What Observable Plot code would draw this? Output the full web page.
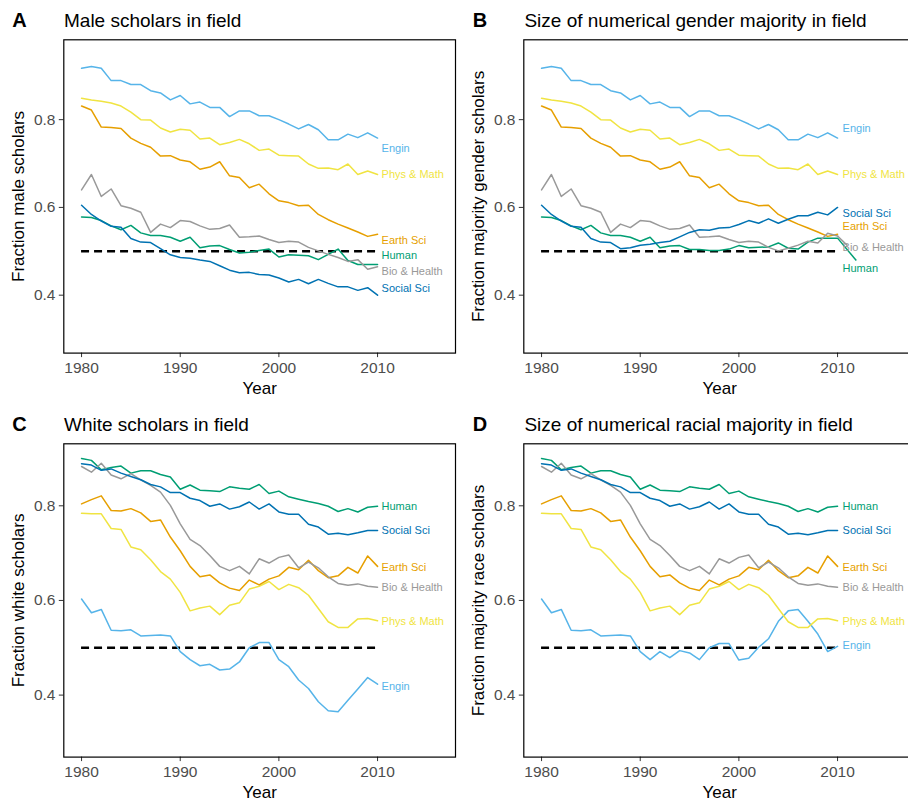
<!DOCTYPE html>
<html>
<head>
<meta charset="utf-8">
<script src="https://cdn.jsdelivr.net/npm/d3@7"></script>
<script src="https://cdn.jsdelivr.net/npm/@observablehq/plot@0.6"></script>
<style>
html,body{margin:0;padding:0;background:#fff;width:908px;height:801px;overflow:hidden;}
body{position:relative;font-family:"Liberation Sans",Arial,Helvetica,sans-serif;}
.panel{position:absolute;width:460px;height:404px;}
.letter{position:absolute;left:12.3px;top:9.8px;font-weight:bold;font-size:20px;line-height:20px;color:#000;}
.title{position:absolute;left:64px;top:10.6px;font-size:19px;line-height:19px;color:#000;white-space:nowrap;}
</style>
</head>
<body>
<script>
// ---- categories ----
const years = [1980,1981,1982,1983,1984,1985,1986,1987,1988,1989,1990,1991,1992,1993,1994,1995,
               1996,1997,1998,1999,2000,2001,2002,2003,2004,2005,2006,2007,2008,2009,2010];
const fields = ["Engin","Phys & Math","Earth Sci","Human","Bio & Health","Social Sci"];
const fieldColors = ["#56B4E9","#F0E442","#E69F00","#009E73","#999999","#0072B2"];

// ---- axis ticks / scale extents ----
const xTicks = [1980,1990,2000,2010];
const yTicks = [0.4,0.6,0.8];
const xDomain = [1978.2,2017.9];
const yDomainGender = [0.268,0.982];
const yDomainRace = [0.269,0.931];
const parityValue = 0.5;
const parityStart = 1980;
const parityEnd = 2010;
const labelYear = 2010;

// ---- A: fraction male scholars ----
const maleEngin  = [0.917,0.921,0.917,0.889,0.889,0.880,0.880,0.866,0.861,0.845,0.855,0.836,0.840,0.828,0.828,0.807,0.820,0.820,0.809,0.809,0.800,0.790,0.779,0.789,0.777,0.754,0.754,0.767,0.759,0.770,0.758];
const malePhys   = [0.849,0.845,0.842,0.838,0.831,0.817,0.800,0.799,0.781,0.772,0.778,0.776,0.756,0.758,0.743,0.748,0.755,0.745,0.730,0.733,0.719,0.718,0.717,0.699,0.689,0.690,0.686,0.699,0.675,0.683,0.675];
const maleEarth  = [0.831,0.822,0.783,0.782,0.780,0.758,0.746,0.737,0.717,0.718,0.708,0.704,0.687,0.692,0.704,0.672,0.668,0.645,0.653,0.631,0.615,0.611,0.604,0.605,0.584,0.572,0.562,0.553,0.544,0.534,0.539];
const maleHuman  = [0.578,0.577,0.570,0.558,0.549,0.559,0.542,0.536,0.536,0.532,0.523,0.532,0.508,0.512,0.513,0.504,0.496,0.498,0.502,0.505,0.487,0.492,0.491,0.490,0.481,0.493,0.505,0.479,0.470,0.470,0.470];
const maleBio    = [0.640,0.675,0.625,0.642,0.604,0.598,0.589,0.543,0.562,0.554,0.570,0.568,0.558,0.550,0.552,0.560,0.532,0.533,0.535,0.527,0.520,0.523,0.521,0.509,0.501,0.493,0.486,0.477,0.481,0.459,0.465];
const maleSocial = [0.605,0.584,0.569,0.557,0.555,0.529,0.521,0.520,0.506,0.492,0.486,0.484,0.480,0.477,0.467,0.457,0.451,0.452,0.447,0.446,0.439,0.430,0.436,0.426,0.436,0.427,0.419,0.419,0.411,0.417,0.400];

// ---- B: size of gender majority (fields that differ from A) ----
const majGenderHuman  = [0.578,0.577,0.570,0.558,0.549,0.559,0.542,0.536,0.536,0.532,0.523,0.532,0.508,0.512,0.513,0.504,0.504,0.502,0.502,0.505,0.513,0.508,0.509,0.510,0.519,0.507,0.505,0.521,0.530,0.530,0.530];
const majGenderBio    = [0.640,0.675,0.625,0.642,0.604,0.598,0.589,0.543,0.562,0.554,0.570,0.568,0.558,0.550,0.552,0.560,0.532,0.533,0.535,0.527,0.520,0.523,0.521,0.509,0.501,0.507,0.514,0.523,0.519,0.541,0.535];
const majGenderSocial = [0.605,0.584,0.569,0.557,0.555,0.529,0.521,0.520,0.506,0.508,0.514,0.516,0.520,0.523,0.533,0.543,0.549,0.548,0.553,0.554,0.561,0.570,0.564,0.574,0.564,0.573,0.581,0.581,0.589,0.583,0.600];

// ---- C: fraction white scholars ----
const whiteEngin  = [0.603,0.574,0.581,0.537,0.536,0.538,0.525,0.526,0.527,0.525,0.492,0.475,0.462,0.465,0.453,0.455,0.470,0.500,0.511,0.511,0.475,0.460,0.432,0.414,0.386,0.367,0.365,0.389,0.413,0.437,0.423];
const whitePhys   = [0.784,0.783,0.783,0.752,0.750,0.713,0.707,0.686,0.661,0.645,0.617,0.578,0.584,0.588,0.570,0.590,0.595,0.624,0.630,0.640,0.623,0.634,0.627,0.611,0.583,0.555,0.543,0.543,0.561,0.562,0.557];
const whiteEarth  = [0.804,0.813,0.821,0.790,0.789,0.794,0.785,0.767,0.770,0.734,0.705,0.672,0.650,0.654,0.637,0.626,0.621,0.643,0.633,0.645,0.652,0.670,0.665,0.685,0.663,0.648,0.652,0.670,0.658,0.694,0.672];
const whiteHuman  = [0.900,0.896,0.876,0.881,0.884,0.869,0.874,0.874,0.866,0.861,0.835,0.844,0.833,0.832,0.830,0.840,0.837,0.835,0.845,0.826,0.831,0.819,0.814,0.809,0.805,0.799,0.788,0.794,0.787,0.797,0.799];
const whiteBio    = [0.883,0.871,0.890,0.865,0.857,0.868,0.855,0.843,0.829,0.801,0.762,0.729,0.716,0.695,0.672,0.663,0.672,0.656,0.688,0.679,0.691,0.696,0.669,0.681,0.669,0.650,0.636,0.632,0.635,0.630,0.628];
const whiteSocial = [0.889,0.886,0.875,0.878,0.869,0.862,0.855,0.845,0.840,0.828,0.828,0.816,0.811,0.799,0.804,0.793,0.798,0.808,0.793,0.804,0.787,0.782,0.782,0.761,0.755,0.740,0.742,0.739,0.743,0.748,0.748];

// ---- D: size of racial majority (field that differs from C) ----
const majRaceEngin = [0.603,0.574,0.581,0.537,0.536,0.538,0.525,0.526,0.527,0.525,0.492,0.475,0.492,0.479,0.494,0.489,0.475,0.500,0.509,0.509,0.474,0.478,0.501,0.519,0.556,0.578,0.581,0.556,0.529,0.492,0.503];

// ---- label heights (fields order) ----
const labelYMale      = [0.734,0.675,0.525,0.491,0.455,0.416];
const labelYMajGender = [0.779,0.675,0.557,0.462,0.509,0.586];
const labelYWhite     = [0.419,0.555,0.670,0.799,0.628,0.748];
const labelYMajRace   = [0.504,0.555,0.670,0.799,0.628,0.748];

// ---- label leader segments in panel B ----
const leaderFields = ["Human","Bio & Health"];
const leaderX1 = [2010,2010];
const leaderY1 = [0.530,0.535];
const leaderX2 = [2011.9,2011.0];
const leaderY2 = [0.479,0.513];

const FONT = '"Liberation Sans", Arial, Helvetica, sans-serif';

const panels = [
  {letter:"A", left:0, top:0, title:"Male scholars in field", yLabel:"Fraction male scholars",
   values:[maleEngin,malePhys,maleEarth,maleHuman,maleBio,maleSocial], labelY:labelYMale, yDomain:yDomainGender, dx:4, leaders:false},
  {letter:"B", left:460.4, top:0, title:"Size of numerical gender majority in field", yLabel:"Fraction majority gender scholars",
   values:[maleEngin,malePhys,maleEarth,majGenderHuman,majGenderBio,majGenderSocial], labelY:labelYMajGender, yDomain:yDomainGender, dx:5, leaders:true},
  {letter:"C", left:0, top:404, title:"White scholars in field", yLabel:"Fraction white scholars",
   values:[whiteEngin,whitePhys,whiteEarth,whiteHuman,whiteBio,whiteSocial], labelY:labelYWhite, yDomain:yDomainRace, dx:4, leaders:false},
  {letter:"D", left:460.4, top:404, title:"Size of numerical racial majority in field", yLabel:"Fraction majority race scholars",
   values:[majRaceEngin,whitePhys,whiteEarth,whiteHuman,whiteBio,whiteSocial], labelY:labelYMajRace, yDomain:yDomainRace, dx:5, leaders:false}
];

for (const p of panels) {
  const wrap = document.createElement("div");
  wrap.className = "panel";
  wrap.style.left = p.left + "px";
  wrap.style.top = p.top + "px";
  const L = document.createElement("div"); L.className = "letter"; L.textContent = p.letter; wrap.appendChild(L);
  const T = document.createElement("div"); T.className = "title"; T.textContent = p.title; wrap.appendChild(T);

  const rows = fields.flatMap((f, k) => years.map((yr, i) => ({field: f, year: yr, value: p.values[k][i]})));
  const labels = fields.map((f, k) => ({field: f, year: labelYear, y: p.labelY[k]}));
  const leaders = p.leaders ? leaderFields.map((f, k) => ({field: f, x1: leaderX1[k], y1: leaderY1[k], x2: leaderX2[k], y2: leaderY2[k]})) : [];

  const chart = Plot.plot({
    width: 460, height: 370,
    marginTop: 9.3, marginBottom: 47.4, marginLeft: 63.3, marginRight: 5,
    x: {domain: xDomain},
    y: {domain: p.yDomain},
    color: {domain: fields, range: fieldColors},
    style: {fontFamily: FONT, background: "transparent", overflow: "visible"},
    marks: [
      Plot.axisX({ticks: xTicks, tickFormat: "d", tickSize: 4.5, tickPadding: 4.6, fontSize: 15.5,
                  stroke: "#333333", fill: "#4D4D4D", label: null}),
      Plot.axisY({ticks: yTicks, tickFormat: ".1f", tickSize: 4.5, tickPadding: 3.8, fontSize: 15.5,
                  stroke: "#333333", fill: "#4D4D4D", label: null}),
      Plot.ruleY([parityValue], {x1: parityStart, x2: parityEnd, stroke: "black", strokeWidth: 2.5, strokeDasharray: "8,5"}),
      Plot.line(rows, {x: "year", y: "value", z: "field", stroke: "field", strokeWidth: 1.5}),
      Plot.link(leaders, {x1: "x1", y1: "y1", x2: "x2", y2: "y2", stroke: "field", strokeWidth: 1.5}),
      Plot.text(labels, {x: "year", y: "y", text: "field", fill: "field", textAnchor: "start", dx: p.dx, fontSize: 11}),
      Plot.frame({stroke: "black", strokeWidth: 1.2}),
      Plot.text([p.yLabel], {text: d => d, frameAnchor: "left", textAnchor: "middle", rotate: -90, lineAnchor: "top", dx: -51.6, fontSize: 17, fill: "black"}),
      Plot.text(["Year"], {text: d => d, frameAnchor: "bottom", textAnchor: "middle", lineAnchor: "top", dy: 29.1, fontSize: 17, fill: "black"})
    ]
  });
  chart.style.position = "absolute";
  chart.style.left = "0px";
  chart.style.top = "30px";
  chart.style.maxWidth = "none";
  wrap.appendChild(chart);
  document.body.appendChild(wrap);
}
</script>
</body>
</html>
